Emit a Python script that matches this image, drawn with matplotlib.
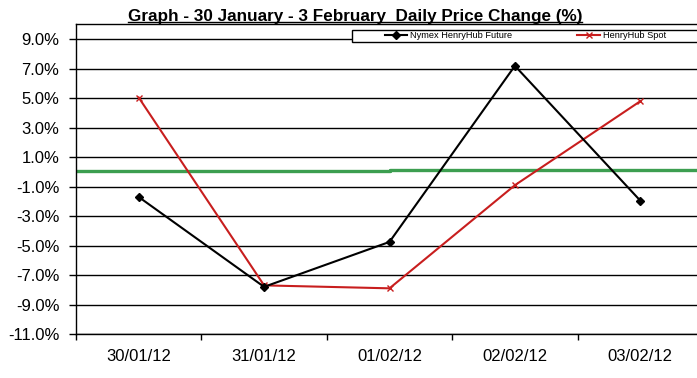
import matplotlib
matplotlib.use("Agg")
import matplotlib.pyplot as plt
import matplotlib.patches as mpatches
import numpy as np

plt.rcParams['font.family'] = ['Liberation Sans', 'DejaVu Sans']

categories = ["30/01/12", "31/01/12", "01/02/12", "02/02/12", "03/02/12"]
future = [-1.7, -7.8, -4.75, 7.2, -1.95]
spot = [5.05, -7.7, -7.9, -0.9, 4.8]
green_levels = [0.04, 0.04, 0.04, 0.1, 0.1]
yticks = [9, 7, 5, 3, 1, -1, -3, -5, -7, -9, -11]
title = "Graph - 30 January - 3 February  Daily Price Change (%)"

W, H = 697, 378
fig = plt.figure(figsize=(W / 100, H / 100), dpi=100)
left, right, top, bottom = 76, 703, 24, 334
ax = fig.add_axes([left / W, 1 - bottom / H, (right - left) / W, (bottom - top) / H])

x = np.arange(len(categories))
ax.set_xlim(-0.5, len(categories) - 0.5)
ax.set_ylim(-11, 10.04)

for yt in yticks:
    ax.axhline(yt, color='black', lw=1.0, zorder=1)

# green reference series spanning full width
gx = np.concatenate([[x[0] - 0.5], x[1:], [x[-1] + 0.5]])
gy = np.concatenate([green_levels, [green_levels[-1]]])
ax.plot(gx, gy, drawstyle='steps-pre', color='#3c9e50', lw=2.4, zorder=2)

ax.plot(x, spot, color='#c81e1e', lw=1.5, marker='x', ms=5, mew=1.0,
        label='HenryHub Spot', zorder=3)
ax.plot(x, future, color='black', lw=1.5, marker='D', ms=4.5,
        label='Nymex HenryHub Future', zorder=4)

ax.set_yticks(yticks)
ax.set_yticklabels([f"{v:.1f}%" for v in yticks], fontsize=12)
ax.tick_params(axis='y', length=5, width=1, color='black', pad=7)

ax.set_xticks(np.arange(len(categories) + 1) - 0.5)
ax.set_xticklabels([])
ax.tick_params(axis='x', which='major', length=4, width=1, direction='out')
ax.set_xticks(x, minor=True)
ax.set_xticklabels(categories, minor=True, fontsize=12)
ax.tick_params(axis='x', which='minor', length=0, pad=11)

for s in ax.spines.values():
    s.set_color('black')
    s.set_linewidth(1.0)

# legend frame (Excel style, extends to the right edge)
fig.add_artist(mpatches.Rectangle((352 / W, 1 - 42 / H), (720 - 352) / W, 12 / H,
                                  transform=fig.transFigure, facecolor='white',
                                  edgecolor='black', lw=1.0, zorder=5))
handles, labels = ax.get_legend_handles_labels()
leg = fig.legend(handles[::-1], labels[::-1], ncol=2, fontsize=6.7,
                 loc='center left', bbox_to_anchor=(385 / W, 1 - 36 / H),
                 frameon=False, borderpad=0.0, columnspacing=7.0,
                 handlelength=2.4, handletextpad=0.3, borderaxespad=0)
leg.set_zorder(6)

t = fig.text(355 / W, 1 - 16 / H, title, ha='center', va='center',
             fontsize=12.3, fontweight='bold')
fig.canvas.draw()
bb = t.get_window_extent()
yline = (bb.y0 + 1.5) / H
fig.add_artist(plt.Line2D([bb.x0 / W, bb.x1 / W], [yline, yline],
                          transform=fig.transFigure, color='black', lw=1.0))

fig.savefig("out.png", dpi=100)
